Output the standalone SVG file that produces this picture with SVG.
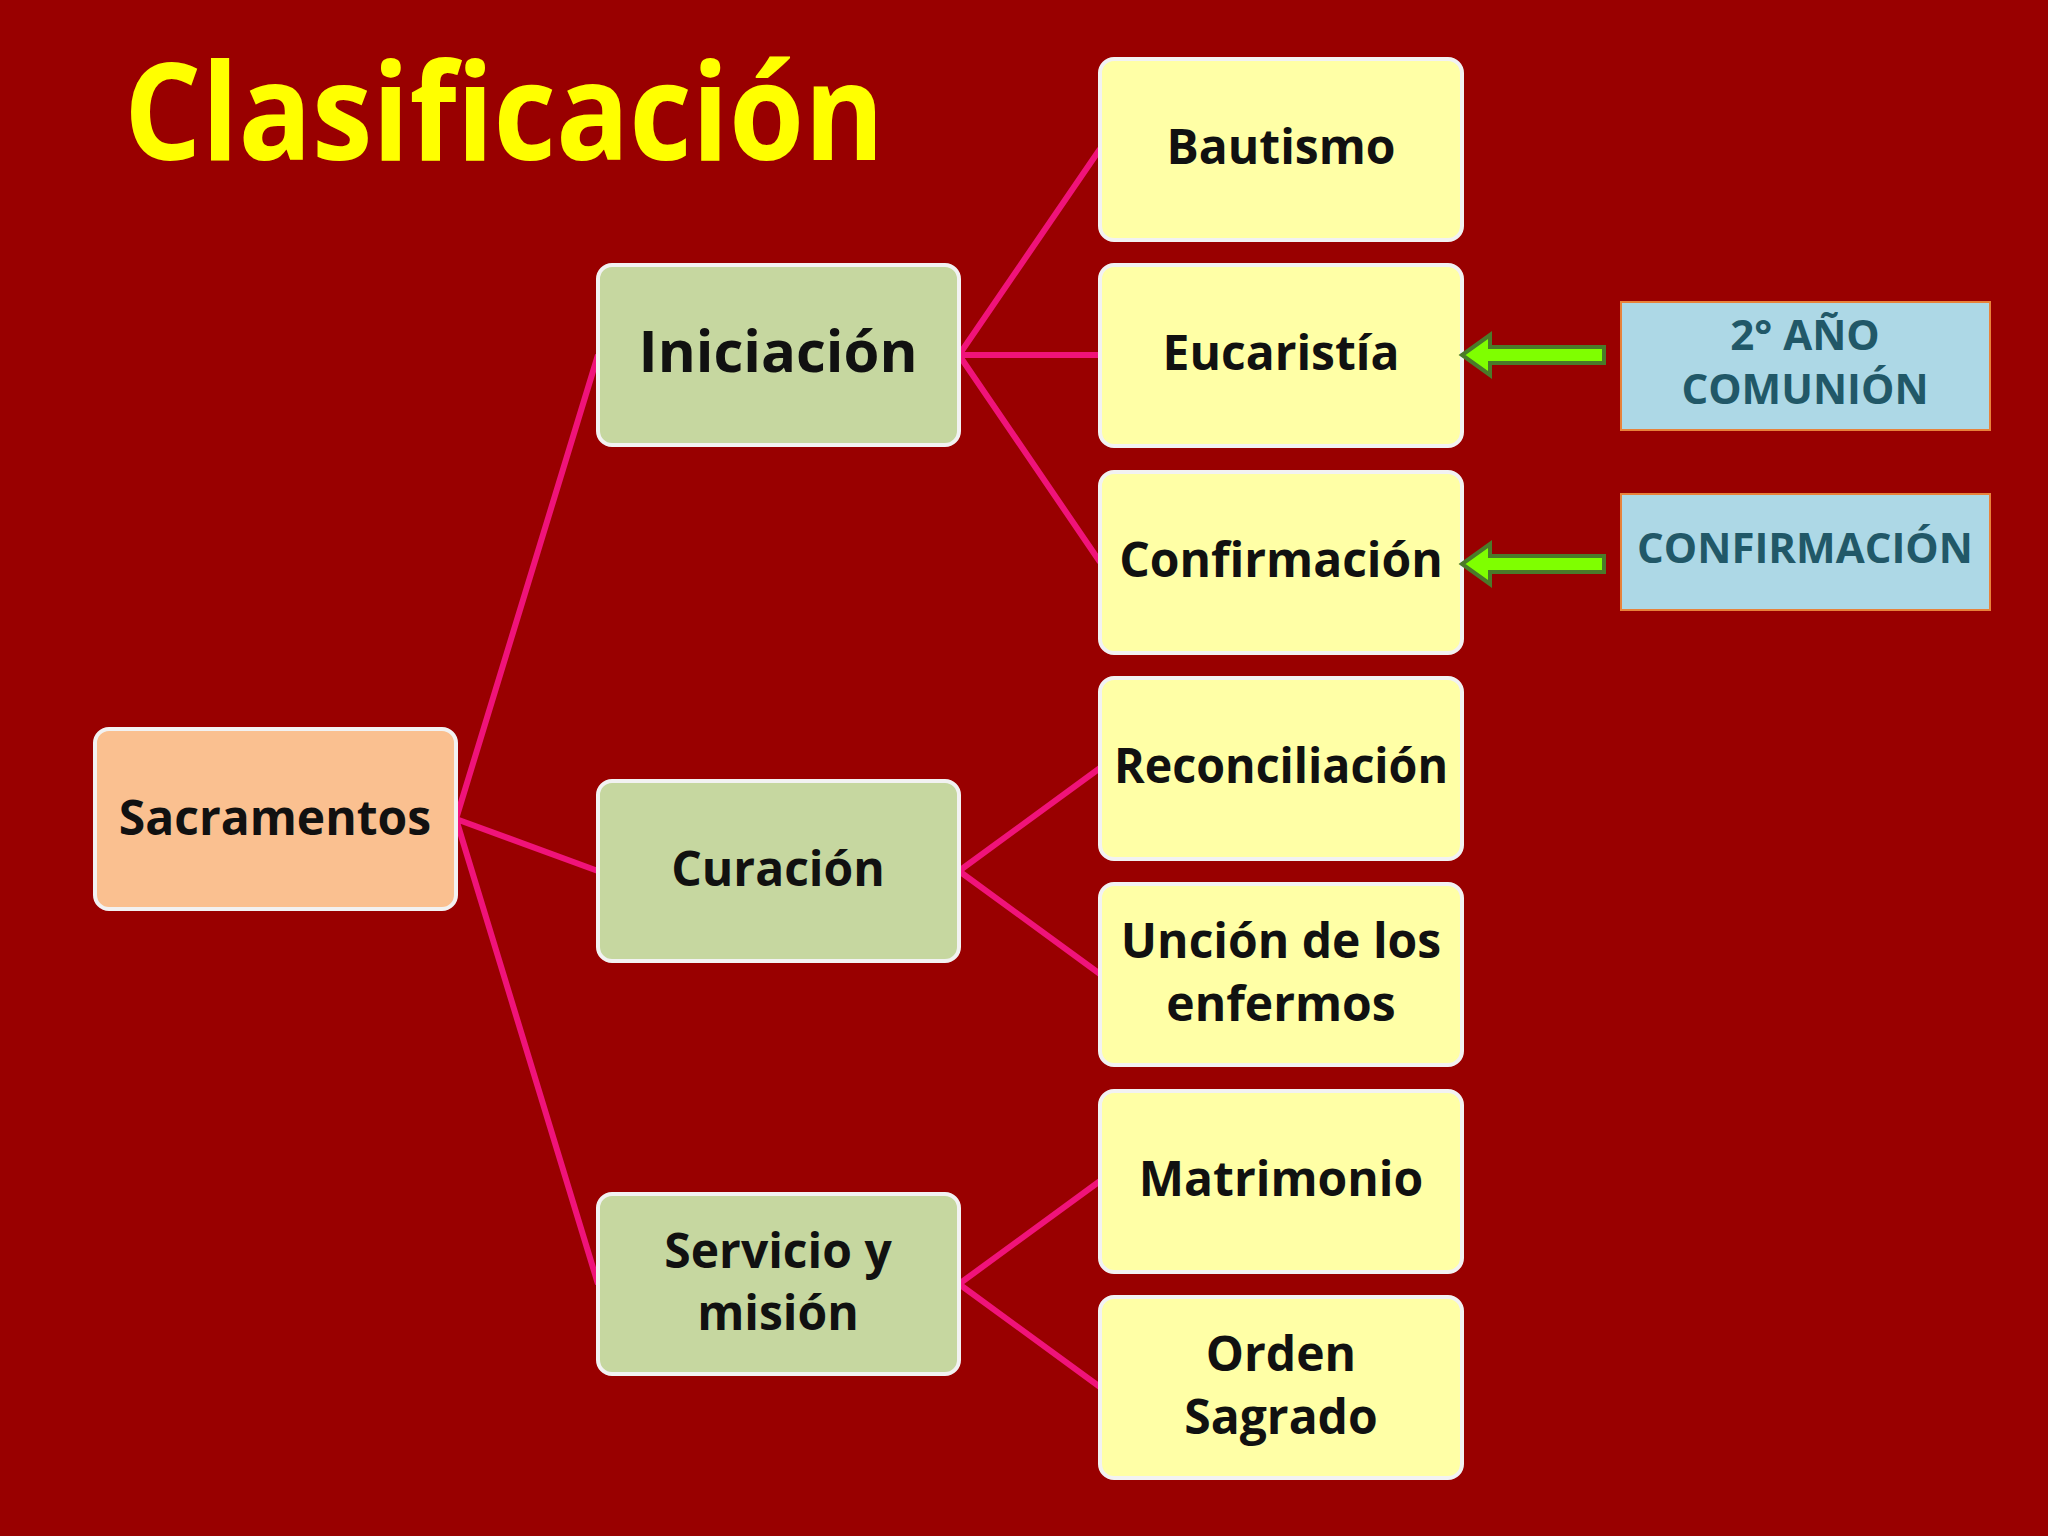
<svg xmlns="http://www.w3.org/2000/svg" width="2048" height="1536" viewBox="0 0 2048 1536">
<style>
.t{font-family:"Open Sans","Noto Sans",sans-serif;font-weight:bold;text-anchor:middle;fill:#111}
.y{fill:#ffffa6;stroke:#f2f2f2;stroke-width:4}
.g{fill:#c6d7a0;stroke:#f2f2f2;stroke-width:4}
.b{fill:#add8e6;stroke:#e8823a;stroke-width:2}
.bt{font-family:"Open Sans","Noto Sans",sans-serif;font-weight:bold;text-anchor:middle;fill:#215868;font-size:42px}
.c{stroke:#f0137a;stroke-width:6;fill:none}
</style>
<rect width="2048" height="1536" fill="#990000"/>
<text x="124" y="160" font-family="Open Sans,Noto Sans,sans-serif" font-weight="bold" font-size="135" fill="#ffff00" textLength="760" lengthAdjust="spacingAndGlyphs">Clasificación</text>
<g id="connectors">
<path class="c" d="M456 819L598 355M456 819L598 871M456 819L598 1284"/>
<path class="c" d="M959 355L1100 149M959 355L1100 355M959 355L1100 562"/>
<path class="c" d="M959 871L1100 768M959 871L1100 974"/>
<path class="c" d="M959 1284L1100 1181M959 1284L1100 1387"/>
</g>
<g id="sacramentos"><rect x="95" y="729" width="361" height="180" rx="14" fill="#fac090" stroke="#f2f2f2" stroke-width="4"/><text class="t" x="275" y="835" font-size="48">Sacramentos</text></g>
<g id="iniciacion"><rect class="g" x="598" y="265" width="361" height="180" rx="14"/><text class="t" x="778" y="372" font-size="58" font-weight="normal">Iniciación</text></g>
<g id="curacion"><rect class="g" x="598" y="781" width="361" height="180" rx="14"/><text class="t" x="778" y="886" font-size="48">Curación</text></g>
<g id="servicio"><rect class="g" x="598" y="1194" width="361" height="180" rx="14"/><text class="t" x="778" y="1268" font-size="48">Servicio y</text><text class="t" x="778" y="1330" font-size="48">misión</text></g>
<g id="bautismo"><rect class="y" x="1100" y="59" width="362" height="181" rx="14"/><text class="t" x="1281" y="164" font-size="48">Bautismo</text></g>
<g id="eucaristia"><rect class="y" x="1100" y="265" width="362" height="181" rx="14"/><text class="t" x="1281" y="370" font-size="48">Eucaristía</text></g>
<g id="confirmacion"><rect class="y" x="1100" y="472" width="362" height="181" rx="14"/><text class="t" x="1281" y="577" font-size="48">Confirmación</text></g>
<g id="reconciliacion"><rect class="y" x="1100" y="678" width="362" height="181" rx="14"/><text class="t" x="1281" y="783" font-size="48" textLength="334" lengthAdjust="spacingAndGlyphs">Reconciliación</text></g>
<g id="uncion"><rect class="y" x="1100" y="884" width="362" height="181" rx="14"/><text class="t" x="1281" y="958" font-size="48">Unción de los</text><text class="t" x="1281" y="1021" font-size="48">enfermos</text></g>
<g id="matrimonio"><rect class="y" x="1100" y="1091" width="362" height="181" rx="14"/><text class="t" x="1281" y="1196" font-size="48">Matrimonio</text></g>
<g id="orden"><rect class="y" x="1100" y="1297" width="362" height="181" rx="14"/><text class="t" x="1281" y="1371" font-size="48">Orden</text><text class="t" x="1281" y="1434" font-size="48">Sagrado</text></g>
<g id="comunion"><rect class="b" x="1621" y="302" width="369" height="128"/><text class="bt" x="1805" y="350">2° AÑO</text><text class="bt" x="1805" y="404">COMUNIÓN</text></g>
<g id="confirm2"><rect class="b" x="1621" y="494" width="369" height="116"/><text class="bt" x="1805" y="563">CONFIRMACIÓN</text></g>
<g id="arrows" fill="#7fff00" stroke="#4a7a2a" stroke-width="4">
<path d="M1604 347H1490V335L1462 355L1490 375V363H1604Z"/>
<path d="M1604 556H1490V544L1462 564L1490 584V572H1604Z"/>
</g>
</svg>
